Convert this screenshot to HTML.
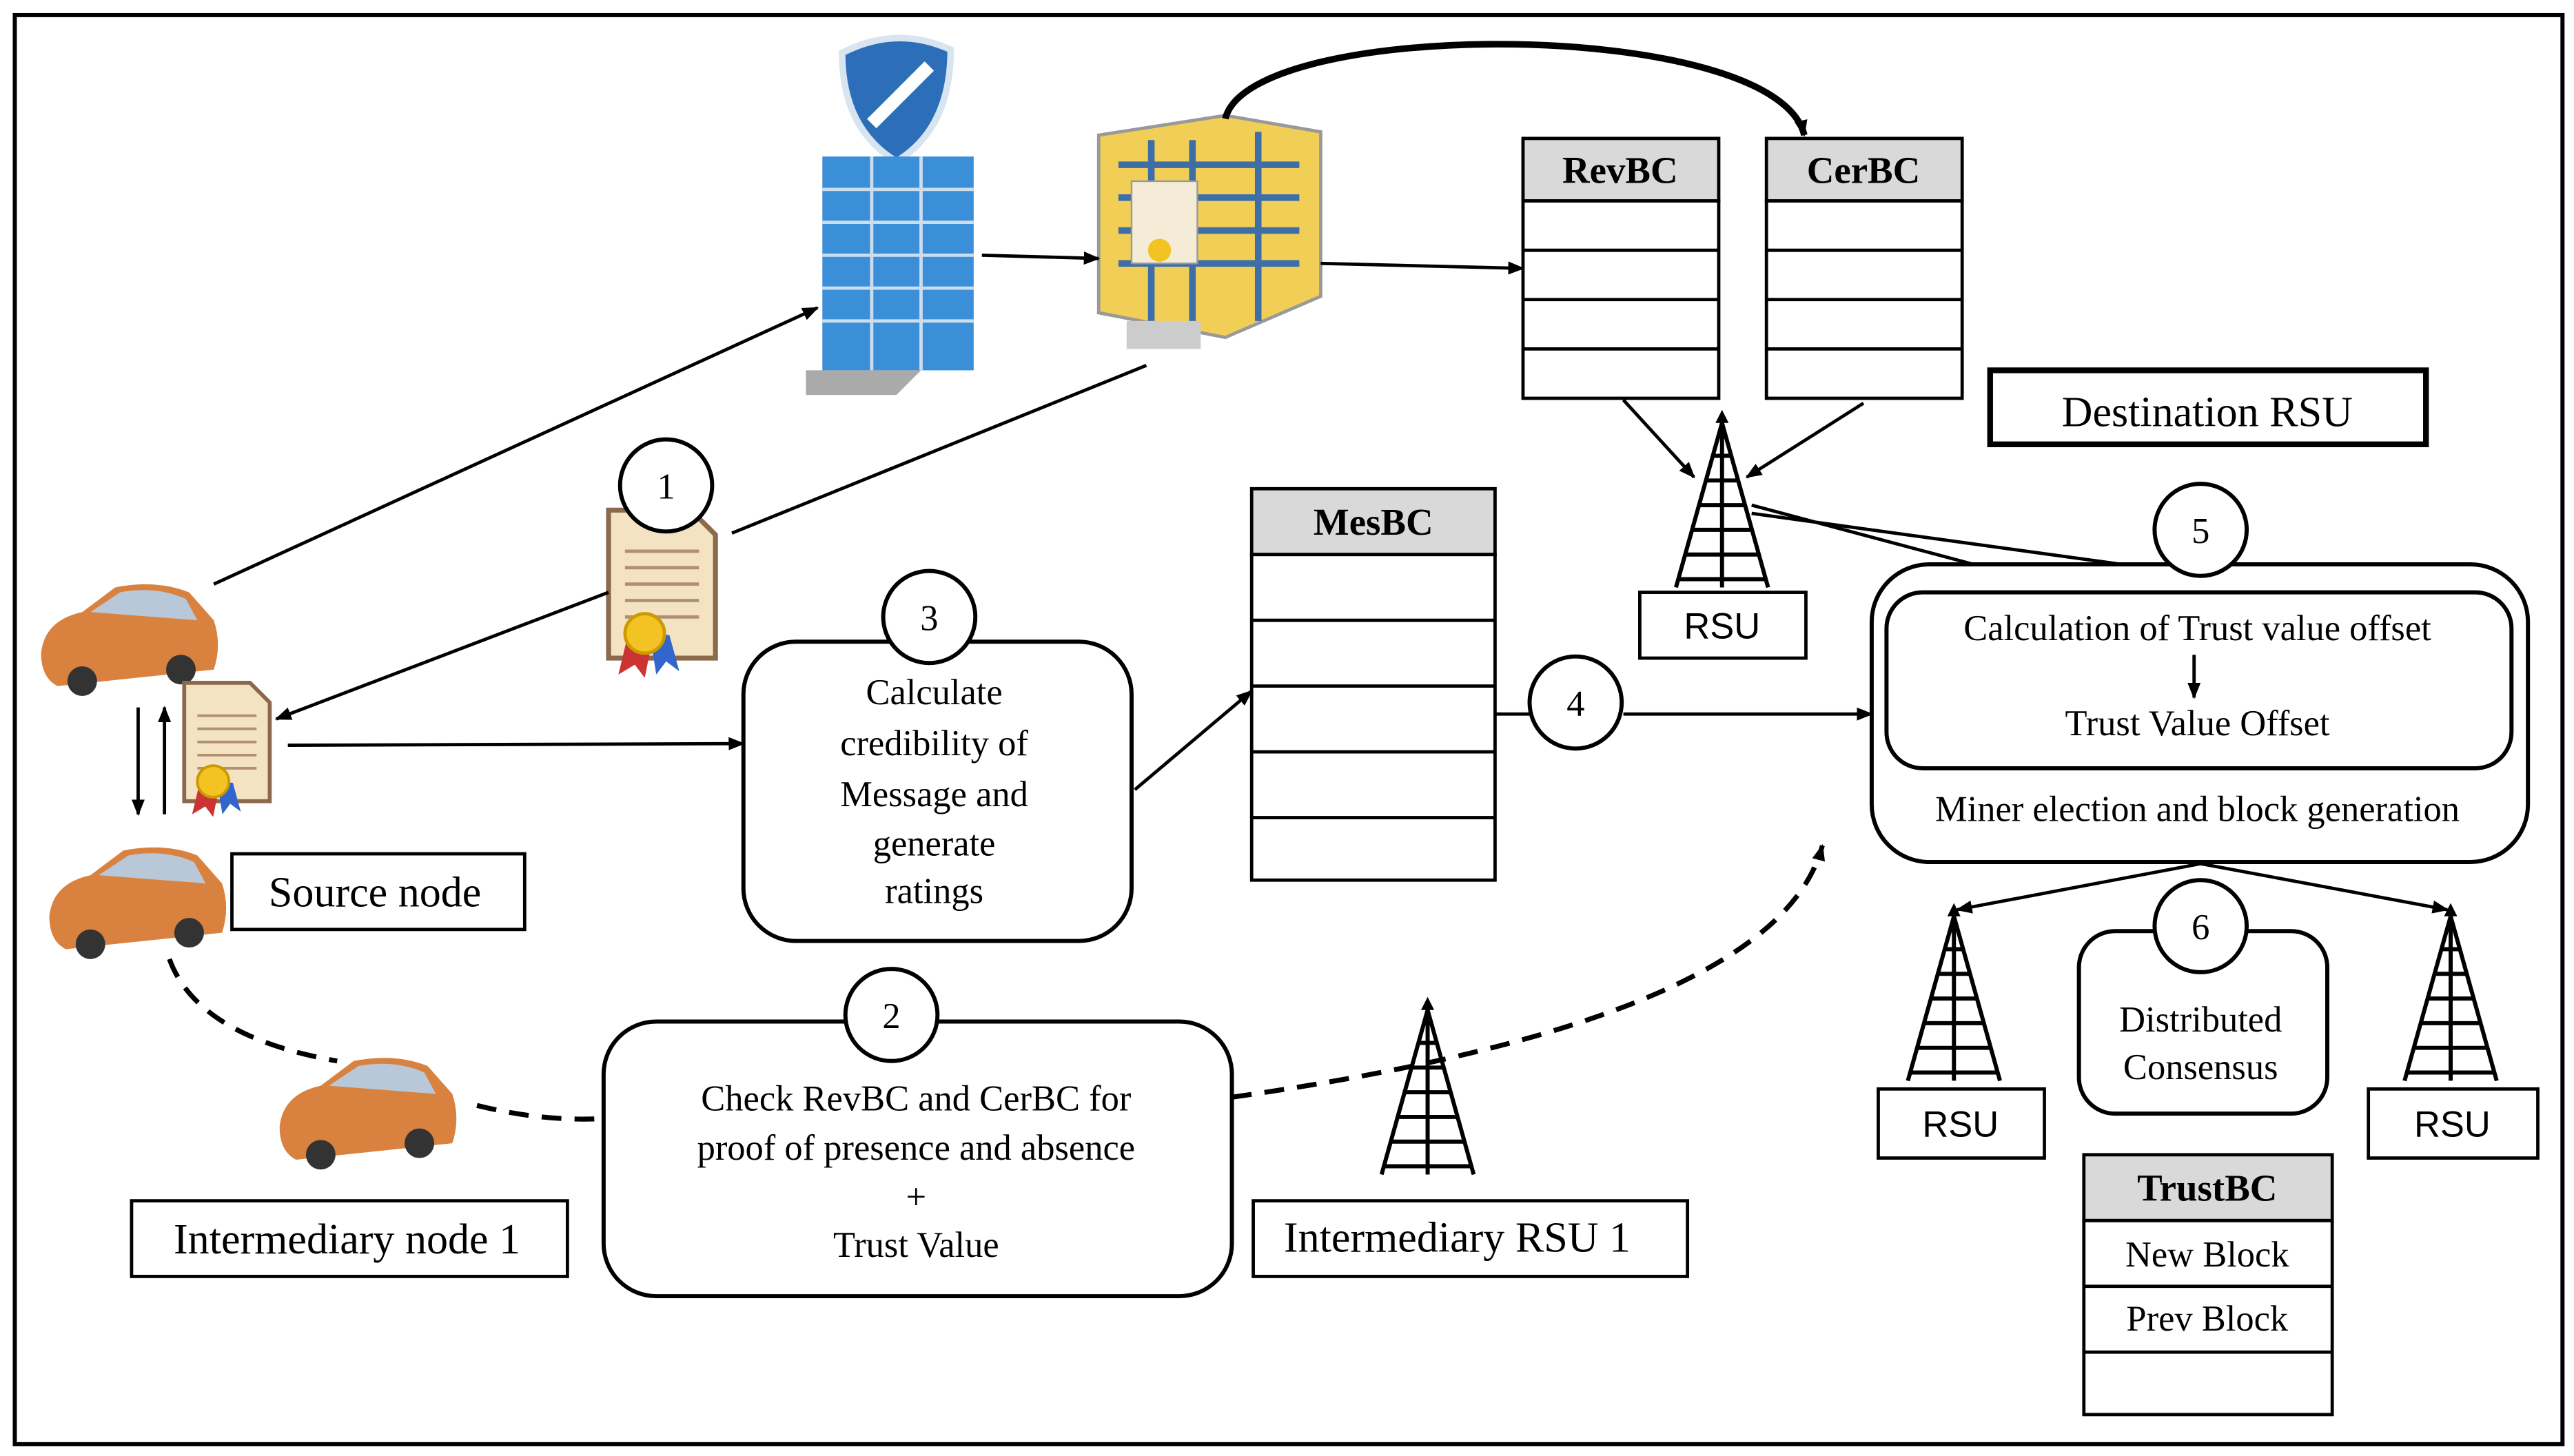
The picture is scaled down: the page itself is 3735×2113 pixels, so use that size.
<!DOCTYPE html>
<html><head><meta charset="utf-8"><style>
html,body{margin:0;padding:0;background:#fff;}
svg{display:block;}
text{font-family:"Liberation Serif",serif;fill:#000;}
</style></head><body>
<svg width="3735" height="2113" viewBox="0 0 1565 885" xmlns="http://www.w3.org/2000/svg">
<defs>
<marker id="ah" markerWidth="10" markerHeight="10" refX="9" refY="5" orient="auto" markerUnits="userSpaceOnUse"><path d="M0,1 L10,5 L0,9 z" fill="#000"/></marker>
<g id="tower"><path d="M0,0 L-28,100 M0,0 L28,100 M0,0 L0,100 M-6,20 L6,20 M-10,35 L10,35 M-14,50 L14,50 M-18,65 L18,65 M-22,80 L22,80 M-26,95 L26,95" stroke="#000" stroke-width="2.5" fill="none"/><path d="M-4,0 L0,-8 L4,0z" fill="#000"/></g>
<g id="car"><path d="M0,45 Q2,25 25,20 L45,5 Q70,0 90,8 L105,25 Q110,40 105,55 L10,65 Q0,60 0,45z" fill="#d9823f"/><path d="M30,20 L48,8 Q70,4 88,12 L95,25z" fill="#b8c8d8"/><circle cx="25" cy="62" r="9" fill="#333"/><circle cx="85" cy="55" r="9" fill="#333"/></g>
<g id="doc"><path d="M0,0 L50,0 L65,15 L65,90 L0,90z" fill="#f3e3c3" stroke="#8a6a4a" stroke-width="3"/><path d="M10,25h45M10,35h45M10,45h45M10,55h45M10,65h45" stroke="#b09070" stroke-width="2"/><path d="M12,75 l-6,25 l10,-6 l6,8 l4,-20z" fill="#c33"/><path d="M25,75 l4,25 l6,-8 l8,6 l-6,-22z" fill="#36c"/><circle cx="22" cy="75" r="12" fill="#f2c322" stroke="#c90" stroke-width="2"/></g>
</defs>
<rect x="9" y="9" width="1549" height="869" fill="none" stroke="#000" stroke-width="2.5"/>

<!-- shield building -->
<path d="M512,32 Q545,15 578,30 Q578,78 545,98 Q512,78 512,32z" fill="#2c6fb8" stroke="#d8e4f0" stroke-width="4"/>
<path d="M530,75 L565,40" stroke="#fff" stroke-width="8"/>
<rect x="500" y="95" width="92" height="130" fill="#3a8fd8"/>
<path d="M500,115h92M500,135h92M500,155h92M500,175h92M500,195h92M530,95v130M560,95v130" stroke="#cde" stroke-width="2"/>
<path d="M490,225 L560,225 L545,240 L490,240z" fill="#aaa"/>
<!-- cert building -->
<path d="M668,82 L745,70 L803,80 L803,180 L745,205 L668,190z" fill="#f1cf57" stroke="#999" stroke-width="2"/>
<path d="M680,100h110M680,120h110M680,140h110M680,160h110M700,85v110M725,85v115M765,80v115" stroke="#3d6ea8" stroke-width="4"/>
<rect x="688" y="110" width="40" height="50" fill="#f5ecd8" stroke="#999"/>
<circle cx="705" cy="152" r="7" fill="#f2c322"/>
<path d="M685,212 L730,212 L730,195 L685,195z" fill="#ccc"/>

<path d="M745,72 C760,10 1080,10 1097,82" fill="none" stroke="#000" stroke-width="4" marker-end="url(#ah)"/>
<line x1="597" y1="155" x2="668" y2="157" stroke="#000" stroke-width="2" marker-end="url(#ah)"/>
<line x1="803" y1="160" x2="926" y2="163" stroke="#000" stroke-width="2" marker-end="url(#ah)"/>

<!-- RevBC CerBC -->
<g stroke="#000" stroke-width="2" fill="none">
<rect x="926" y="84" width="119" height="38" fill="#d9d9d9"/>
<rect x="926" y="122" width="119" height="120"/>
<path d="M926,152h119M926,182h119M926,212h119"/>
<rect x="1074" y="84" width="119" height="38" fill="#d9d9d9"/>
<rect x="1074" y="122" width="119" height="120"/>
<path d="M1074,152h119M1074,182h119M1074,212h119"/>
</g>
<text x="985" y="111" font-size="23" font-weight="bold" text-anchor="middle">RevBC</text>
<text x="1133" y="111" font-size="23" font-weight="bold" text-anchor="middle">CerBC</text>

<rect x="1210" y="225" width="265" height="45" fill="none" stroke="#000" stroke-width="3.5"/>
<text x="1342" y="259" font-size="26" text-anchor="middle">Destination RSU</text>

<use href="#tower" x="1047" y="257"/>
<rect x="997" y="360" width="101" height="40" fill="#fff" stroke="#000" stroke-width="2"/>
<text x="1047" y="388" font-size="22" font-family="Liberation Sans" text-anchor="middle" style="font-family:'Liberation Sans',sans-serif">RSU</text>
<line x1="987" y1="243" x2="1030" y2="290" stroke="#000" stroke-width="2" marker-end="url(#ah)"/>
<line x1="1133" y1="245" x2="1062" y2="290" stroke="#000" stroke-width="2" marker-end="url(#ah)"/>
<path d="M1065,307 L1200,343 M1065,312 L1290,343" stroke="#000" stroke-width="2"/>

<!-- MesBC -->
<g stroke="#000" stroke-width="2" fill="none">
<rect x="761" y="297" width="148" height="40" fill="#d9d9d9"/>
<rect x="761" y="337" width="148" height="198"/>
<path d="M761,377h148M761,417h148M761,457h148M761,497h148"/>
</g>
<text x="835" y="325" font-size="23" font-weight="bold" text-anchor="middle">MesBC</text>

<!-- cars -->
<use href="#car" x="25" y="352"/>
<use href="#car" x="30" y="512"/>
<use href="#car" x="170" y="640"/>
<use href="#doc" x="370" y="310" transform="translate(0,0)"/>
<g transform="translate(112,415) scale(0.8)"><use href="#doc"/></g>

<line x1="130" y1="355" x2="497" y2="187" stroke="#000" stroke-width="2" marker-end="url(#ah)"/>
<line x1="697" y1="222" x2="445" y2="324" stroke="#000" stroke-width="2"/>
<line x1="370" y1="360" x2="168" y2="437" stroke="#000" stroke-width="2" marker-end="url(#ah)"/>
<line x1="175" y1="453" x2="452" y2="452" stroke="#000" stroke-width="2" marker-end="url(#ah)"/>
<line x1="690" y1="480" x2="761" y2="420" stroke="#000" stroke-width="2" marker-end="url(#ah)"/>
<line x1="909" y1="434" x2="930" y2="434" stroke="#000" stroke-width="2"/>
<line x1="987" y1="434" x2="1138" y2="434" stroke="#000" stroke-width="2" marker-end="url(#ah)"/>
<line x1="84" y1="430" x2="84" y2="495" stroke="#000" stroke-width="2" marker-end="url(#ah)"/>
<line x1="100" y1="495" x2="100" y2="430" stroke="#000" stroke-width="2" marker-end="url(#ah)"/>

<!-- dashed -->
<path d="M103,583 Q120,630 205,645" fill="none" stroke="#000" stroke-width="3" stroke-dasharray="12,8"/>
<path d="M290,672 Q330,682 367,680" fill="none" stroke="#000" stroke-width="3" stroke-dasharray="12,8"/>
<path d="M749,667 Q1080,620 1108,514" fill="none" stroke="#000" stroke-width="3" stroke-dasharray="12,8" marker-end="url(#ah)"/>

<!-- boxes -->
<rect x="452" y="390" width="236" height="182" rx="32" fill="#fff" stroke="#000" stroke-width="2.5"/>
<g font-size="22" text-anchor="middle"><text x="568" y="428">Calculate</text><text x="568" y="459">credibility of</text><text x="568" y="490">Message and</text><text x="568" y="520">generate</text><text x="568" y="549">ratings</text></g>

<rect x="367" y="621" width="382" height="167" rx="32" fill="#fff" stroke="#000" stroke-width="2.5"/>
<g font-size="22" text-anchor="middle"><text x="557" y="675">Check RevBC and CerBC for</text><text x="557" y="705">proof of presence and absence</text><text x="557" y="735">+</text><text x="557" y="764">Trust Value</text></g>

<rect x="1138" y="343" width="399" height="181" rx="35" fill="#fff" stroke="#000" stroke-width="2.5"/>
<rect x="1147" y="360" width="380" height="107" rx="22" fill="#fff" stroke="#000" stroke-width="2.5"/>
<g font-size="22" text-anchor="middle"><text x="1336" y="389">Calculation of Trust value offset</text><text x="1336" y="447">Trust Value Offset</text><text x="1336" y="499">Miner election and block generation</text></g>
<line x1="1334" y1="398" x2="1334" y2="424" stroke="#000" stroke-width="2" marker-end="url(#ah)"/>

<line x1="1338" y1="525" x2="1190" y2="553" stroke="#000" stroke-width="2" marker-end="url(#ah)"/>
<line x1="1338" y1="525" x2="1488" y2="553" stroke="#000" stroke-width="2" marker-end="url(#ah)"/>
<rect x="1264" y="566" width="151" height="111" rx="22" fill="#fff" stroke="#000" stroke-width="2.5"/>
<g font-size="22" text-anchor="middle"><text x="1338" y="627">Distributed</text><text x="1338" y="656">Consensus</text></g>

<use href="#tower" x="1188" y="557"/>
<use href="#tower" x="1490" y="557"/>
<use href="#tower" x="868" y="614"/>
<rect x="1142" y="662" width="101" height="42" fill="#fff" stroke="#000" stroke-width="2"/>
<rect x="1440" y="662" width="103" height="42" fill="#fff" stroke="#000" stroke-width="2"/>
<text x="1192" y="691" font-size="22" text-anchor="middle" style="font-family:'Liberation Sans',sans-serif">RSU</text>
<text x="1491" y="691" font-size="22" text-anchor="middle" style="font-family:'Liberation Sans',sans-serif">RSU</text>

<g stroke="#000" stroke-width="2" fill="none">
<rect x="1267" y="702" width="151" height="40" fill="#d9d9d9"/>
<rect x="1267" y="742" width="151" height="118"/>
<path d="M1267,782h151M1267,822h151"/>
</g>
<text x="1342" y="730" font-size="23" font-weight="bold" text-anchor="middle">TrustBC</text>
<text x="1342" y="770" font-size="22" text-anchor="middle">New Block</text>
<text x="1342" y="809" font-size="22" text-anchor="middle">Prev Block</text>

<rect x="762" y="730" width="264" height="46" fill="#fff" stroke="#000" stroke-width="2"/>
<text x="886" y="761" font-size="26" text-anchor="middle">Intermediary RSU 1</text>
<rect x="141" y="519" width="178" height="46" fill="#fff" stroke="#000" stroke-width="2"/>
<text x="228" y="551" font-size="26" text-anchor="middle">Source node</text>
<rect x="80" y="730" width="265" height="46" fill="#fff" stroke="#000" stroke-width="2"/>
<text x="211" y="762" font-size="26" text-anchor="middle">Intermediary node 1</text>

<!-- circles -->
<g fill="#fff" stroke="#000" stroke-width="2.5">
<circle cx="405" cy="295" r="28"/><circle cx="565" cy="375" r="28"/><circle cx="958" cy="427" r="28"/>
<circle cx="1338" cy="322" r="28"/><circle cx="542" cy="617" r="28"/><circle cx="1338" cy="563" r="28"/>
</g>
<g font-size="22" text-anchor="middle"><text x="405" y="303">1</text><text x="565" y="383">3</text><text x="958" y="435">4</text><text x="1338" y="330">5</text><text x="542" y="625">2</text><text x="1338" y="571">6</text></g>
</svg>
</body></html>
